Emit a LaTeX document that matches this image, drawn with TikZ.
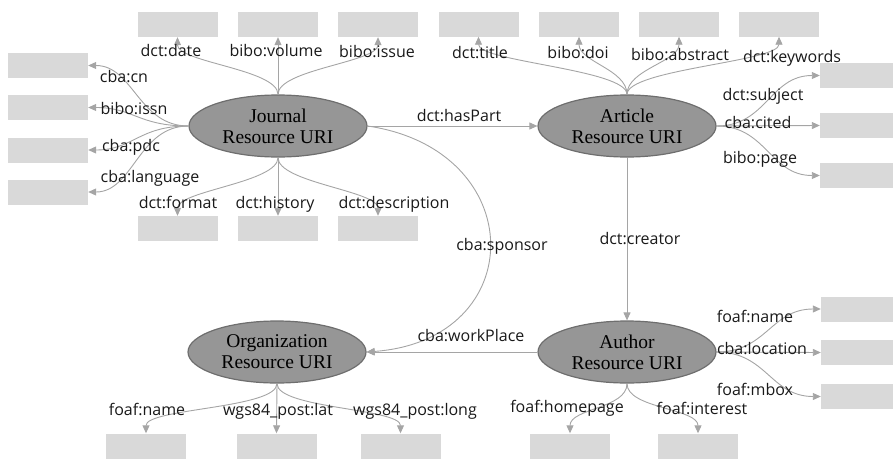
\documentclass[tikz,border=0pt]{standalone}
\usepackage{fontspec}
\setmainfont{Open Sans}
\newfontfamily\ellfont{Liberation Serif}
\usetikzlibrary{arrows.meta,shapes.geometric}
\definecolor{boxgray}{RGB}{217,217,217}
\definecolor{ellgray}{RGB}{150,150,150}
\definecolor{elldraw}{RGB}{110,110,110}
\definecolor{edgegray}{RGB}{165,165,165}
\definecolor{labtext}{RGB}{25,25,25}
\begin{document}
\begin{tikzpicture}[x=1pt,y=-1pt,
  box/.style={fill=boxgray, draw=none, minimum width=80pt, minimum height=25pt, inner sep=0pt},
  res/.style={ellipse, fill=ellgray, draw=elldraw, line width=1.2pt, minimum width=178pt, minimum height=62pt, inner sep=0pt, font=\ellfont\fontsize{19.5}{21}\selectfont, align=center},
  lab/.style={font=\fontsize{16}{18}\selectfont, inner sep=0pt, anchor=base, text=labtext},
  edge/.style={draw=edgegray, line width=0.9pt, -{Triangle[length=8pt,width=7pt]}}]
\useasboundingbox (0,0) rectangle (893,458);
% resources
\node[res] (J) at (278,126) {Journal\\Resource URI};
\node[res] (A) at (627,126) {Article\\Resource URI};
\node[res] (O) at (277,352) {Organization\\Resource URI};
\node[res] (U) at (627,352) {Author\\Resource URI};
% boxes
\node[box] (jt1) at (177.5,24.5) {};
\node[box] (jt2) at (278,24.5) {};
\node[box] (jt3) at (378,24.5) {};
\node[box] (at1) at (478.5,24) {};
\node[box] (at2) at (579,24) {};
\node[box] (at3) at (679,24) {};
\node[box] (at4) at (779,24) {};
\node[box] (ar1) at (860,75.5) {};
\node[box] (ar2) at (860,125.5) {};
\node[box] (ar3) at (860,175.5) {};
\node[box] (jl1) at (48,65.5) {};
\node[box] (jl2) at (48,107.5) {};
\node[box] (jl3) at (48,150) {};
\node[box] (jl4) at (48,192) {};
\node[box] (jb1) at (177.5,228.5) {};
\node[box] (jb2) at (278,228.5) {};
\node[box] (jb3) at (378,228.5) {};
\node[box] (ob1) at (146,446) {};
\node[box] (ob2) at (276.5,446) {};
\node[box] (ob3) at (400.5,446) {};
\node[box] (ub1) at (570,446) {};
\node[box] (ub2) at (698,446) {};
\node[box] (ur1) at (861,309) {};
\node[box] (ur2) at (861,352.5) {};
\node[box] (ur3) at (861,396.5) {};
% journal edges
\draw[edge] (J.north) .. controls +(0,-25) and +(0,25) .. (jt1.south);
\draw[edge] (J.north) -- (jt2.south);
\draw[edge] (J.north) .. controls +(0,-25) and +(0,25) .. (jt3.south);
\draw[edge] (J.west) .. controls +(-50,0) and +(45,0) .. (jl1.east);
\draw[edge] (J.west) .. controls +(-50,0) and +(45,0) .. (jl2.east);
\draw[edge] (J.west) .. controls +(-50,0) and +(45,0) .. (jl3.east);
\draw[edge] (J.west) .. controls +(-50,0) and +(45,0) .. (jl4.east);
\draw[edge] (J.south) .. controls +(0,25) and +(0,-25) .. (jb1.north);
\draw[edge] (J.south) -- (jb2.north);
\draw[edge] (J.south) .. controls +(0,25) and +(0,-25) .. (jb3.north);
\draw[edge] (J.east) -- (A.west);
\draw[edge] (J.east) .. controls +(163,24) and +(164,-12) .. (O.east);
% article edges
\draw[edge] (A.north) .. controls +(0,-25) and +(0,25) .. (at1.south);
\draw[edge] (A.north) .. controls +(0,-25) and +(0,25) .. (at2.south);
\draw[edge] (A.north) .. controls +(0,-25) and +(0,25) .. (at3.south);
\draw[edge] (A.north) .. controls +(0,-25) and +(0,25) .. (at4.south);
\draw[edge] (A.east) .. controls +(50,0) and +(-50,0) .. (ar1.west);
\draw[edge] (A.east) -- (ar2.west);
\draw[edge] (A.east) .. controls +(50,0) and +(-50,0) .. (ar3.west);
\draw[edge] (A.south) -- (U.north);
% author edges
\draw[edge] (U.west) -- (O.east);
\draw[edge] (U.south) .. controls +(0,25) and +(0,-25) .. (ub1.north);
\draw[edge] (U.south) .. controls +(0,25) and +(0,-25) .. (ub2.north);
\draw[edge] (U.east) .. controls +(50,0) and +(-50,0) .. (ur1.west);
\draw[edge] (U.east) -- (ur2.west);
\draw[edge] (U.east) .. controls +(50,0) and +(-50,0) .. (ur3.west);
% organization edges
\draw[edge] (O.south) .. controls +(0,25) and +(0,-25) .. (ob1.north);
\draw[edge] (O.south) -- (ob2.north);
\draw[edge] (O.south) .. controls +(0,25) and +(0,-25) .. (ob3.north);
% labels
\node[lab] (l1) at (171,56) {dct:date};
\node[lab] (l2) at (276,56) {bibo:volume};
\node[lab] (l3) at (377,57) {bibo:issue};
\node[lab] (l4) at (124,82) {cba:cn};
\node[lab] (l5) at (134,114) {bibo:issn};
\node[lab] (l6) at (131,151) {cba:pdc};
\node[lab] (l7) at (150,182) {cba:language};
\node[lab] (l8) at (178,208) {dct:format};
\node[lab] (l9) at (275,208) {dct:history};
\node[lab] (l10) at (394,208) {dct:description};
\node[lab] (l11) at (459,121) {dct:hasPart};
\node[lab] (l12) at (480,58) {dct:title};
\node[lab] (l13) at (578,58) {bibo:doi};
\node[lab] (l14) at (680,60) {bibo:abstract};
\node[lab] (l15) at (792,62) {dct:keywords};
\node[lab] (l16) at (763,100) {dct:subject};
\node[lab] (l17) at (758,128) {cba:cited};
\node[lab] (l18) at (760,163) {bibo:page};
\node[lab] (l19) at (502,250) {cba:sponsor};
\node[lab] (l20) at (640,244) {dct:creator};
\node[lab] (l21) at (471,341) {cba:workPlace};
\node[lab] (l22) at (147,415) {foaf:name};
\node[lab] (l23) at (278,415) {wgs84\_post:lat};
\node[lab] (l24) at (415,415) {wgs84\_post:long};
\node[lab] (l25) at (567,412) {foaf:homepage};
\node[lab] (l26) at (702,414) {foaf:interest};
\node[lab] (l27) at (755,322) {foaf:name};
\node[lab] (l28) at (762,354) {cba:location};
\node[lab] (l29) at (755,395) {foaf:mbox};
\end{tikzpicture}
\end{document}
